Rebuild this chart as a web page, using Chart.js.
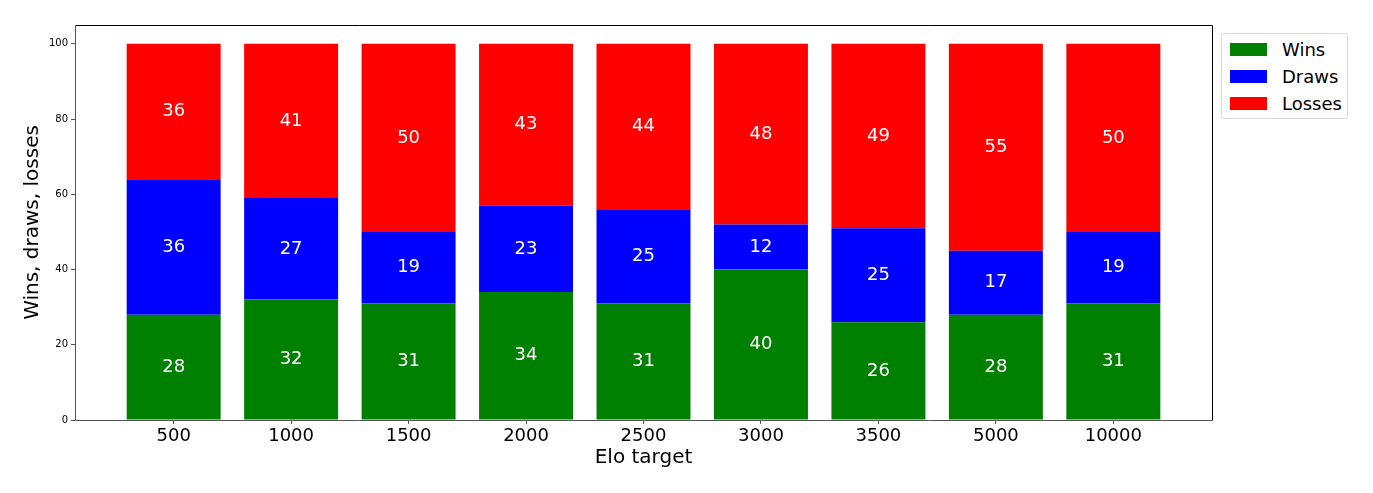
<!DOCTYPE html>
<html>
<head>
<meta charset="utf-8">
<script src="https://cdn.jsdelivr.net/npm/chart.js@4"></script>
<style>
  body { margin: 0; background: #fff; }
  #wrap { position: relative; width: 1373px; height: 493px; }
  #legend {
    position: absolute; left: 1221px; top: 33px; width: 125px; height: 84px;
    border: 1px solid #d9d9d9; border-radius: 3px; background: #fff;
    font-family: "DejaVu Sans", sans-serif; font-size: 18px; color: #000;
  }
  .row { position: absolute; left: 8px; height: 20px; display: flex; align-items: center; }
  .sw { width: 37px; height: 13px; margin-right: 15px; }
</style>
</head>
<body>
<div id="wrap">
  <canvas id="chart" width="1373" height="493"></canvas>
  <div id="legend"></div>
</div>
<script>
const targets = ["500", "1000", "1500", "2000", "2500", "3000", "3500", "5000", "10000"]
const wins = [28, 32, 31, 34, 31, 40, 26, 28, 31]
const draws = [36, 27, 19, 23, 25, 12, 25, 17, 19]
const losses = [36, 41, 50, 43, 44, 48, 49, 55, 50]
const yTicks = [0, 20, 40, 60, 80, 100]

const series = [
  { label: "Wins", values: wins, color: "#008000" },
  { label: "Draws", values: draws, color: "#0000ff" },
  { label: "Losses", values: losses, color: "#ff0000" }
]

const legend = document.querySelector('#legend')
series.forEach((s, i) => {
  const row = document.createElement("div")
  row.className = "row"
  row.style.top = (5 + i * 27) + "px"
  row.innerHTML = `<span class="sw" style="background:${s.color}"></span>${s.label}`
  legend.appendChild(row)
})

// white numbers in the middle of each segment
const segmentLabels = {
  id: "segmentLabels",
  afterDatasetsDraw(chart) {
    const ctx = chart.ctx
    ctx.save()
    ctx.fillStyle = "#fff"
    ctx.font = '18px "DejaVu Sans"'
    ctx.textAlign = "center"
    ctx.textBaseline = "middle"
    chart.data.datasets.forEach((ds, i) => {
      chart.getDatasetMeta(i).data.forEach((bar, j) => {
        ctx.fillText(String(ds.data[j].y), bar.x, (bar.y + bar.base) / 2)
      })
    })
    ctx.restore()
  }
}

// matplotlib style box around the axes
const frame = {
  id: "frame",
  afterDraw(chart) {
    const a = chart.chartArea
    const ctx = chart.ctx
    const l = Math.round(a.left) + 0.5, r = Math.round(a.right) + 0.5
    const t = Math.round(a.top) + 0.5, b = Math.round(a.bottom) + 0.5
    ctx.save()
    ctx.lineWidth = 1
    ctx.strokeStyle = "#000"
    ctx.beginPath()
    ctx.moveTo(l, t); ctx.lineTo(r, t); ctx.lineTo(r, b)
    ctx.stroke()
    ctx.strokeStyle = "#555"
    ctx.beginPath()
    ctx.moveTo(l, t); ctx.lineTo(l, b); ctx.lineTo(r, b)
    ctx.stroke()
    ctx.restore()
  }
}

const ctx = document.querySelector('#chart').getContext('2d')
new Chart(ctx, {
  type: "bar",
  data: {
    datasets: series.map((s) => ({
      label: s.label,
      data: s.values.map((v, i) => ({ x: i, y: v })),
      backgroundColor: s.color,
      borderWidth: 0,
      barPercentage: 0.8,
      categoryPercentage: 1
    }))
  },
  options: {
    responsive: false,
    animation: false,
    layout: { padding: { top: 25, right: 161, left: 0, bottom: 0 } },
    plugins: { legend: { display: false }, tooltip: { enabled: false } },
    scales: {
      x: {
        type: "linear",
        stacked: true,
        offset: false,
        min: -0.84,
        max: 8.84,
        afterBuildTicks: (axis) => { axis.ticks = targets.map((t, i) => ({ value: i })) },
        afterFit: (axis) => { axis.height = 73 },
        ticks: {
          callback: (v) => targets[v],
          color: "#000",
          font: { family: "DejaVu Sans", size: 18 },
          padding: 2,
          maxRotation: 0,
          autoSkip: false
        },
        grid: { drawOnChartArea: false, tickLength: 4, color: "#555", tickColor: "#555", offset: false },
        border: { display: false },
        title: {
          display: true, text: "Elo target", color: "#000",
          font: { family: "DejaVu Sans", size: 20 }, padding: { top: 0, bottom: 23 }
        }
      },
      y: {
        stacked: true,
        min: 0,
        max: 105,
        afterBuildTicks: (axis) => { axis.ticks = yTicks.map((v) => ({ value: v })) },
        afterFit: (axis) => { axis.width = 75 },
        ticks: {
          color: "#000",
          font: { family: "DejaVu Sans", size: 10 },
          padding: 3
        },
        grid: { drawOnChartArea: false, tickLength: 4, color: "#555", tickColor: "#555" },
        border: { display: false },
        title: {
          display: true, text: "Wins, draws, losses", color: "#000",
          font: { family: "DejaVu Sans", size: 20 }, padding: { top: 21, bottom: 0 }
        }
      }
    }
  },
  plugins: [segmentLabels, frame]
})
</script>
</body>
</html>
